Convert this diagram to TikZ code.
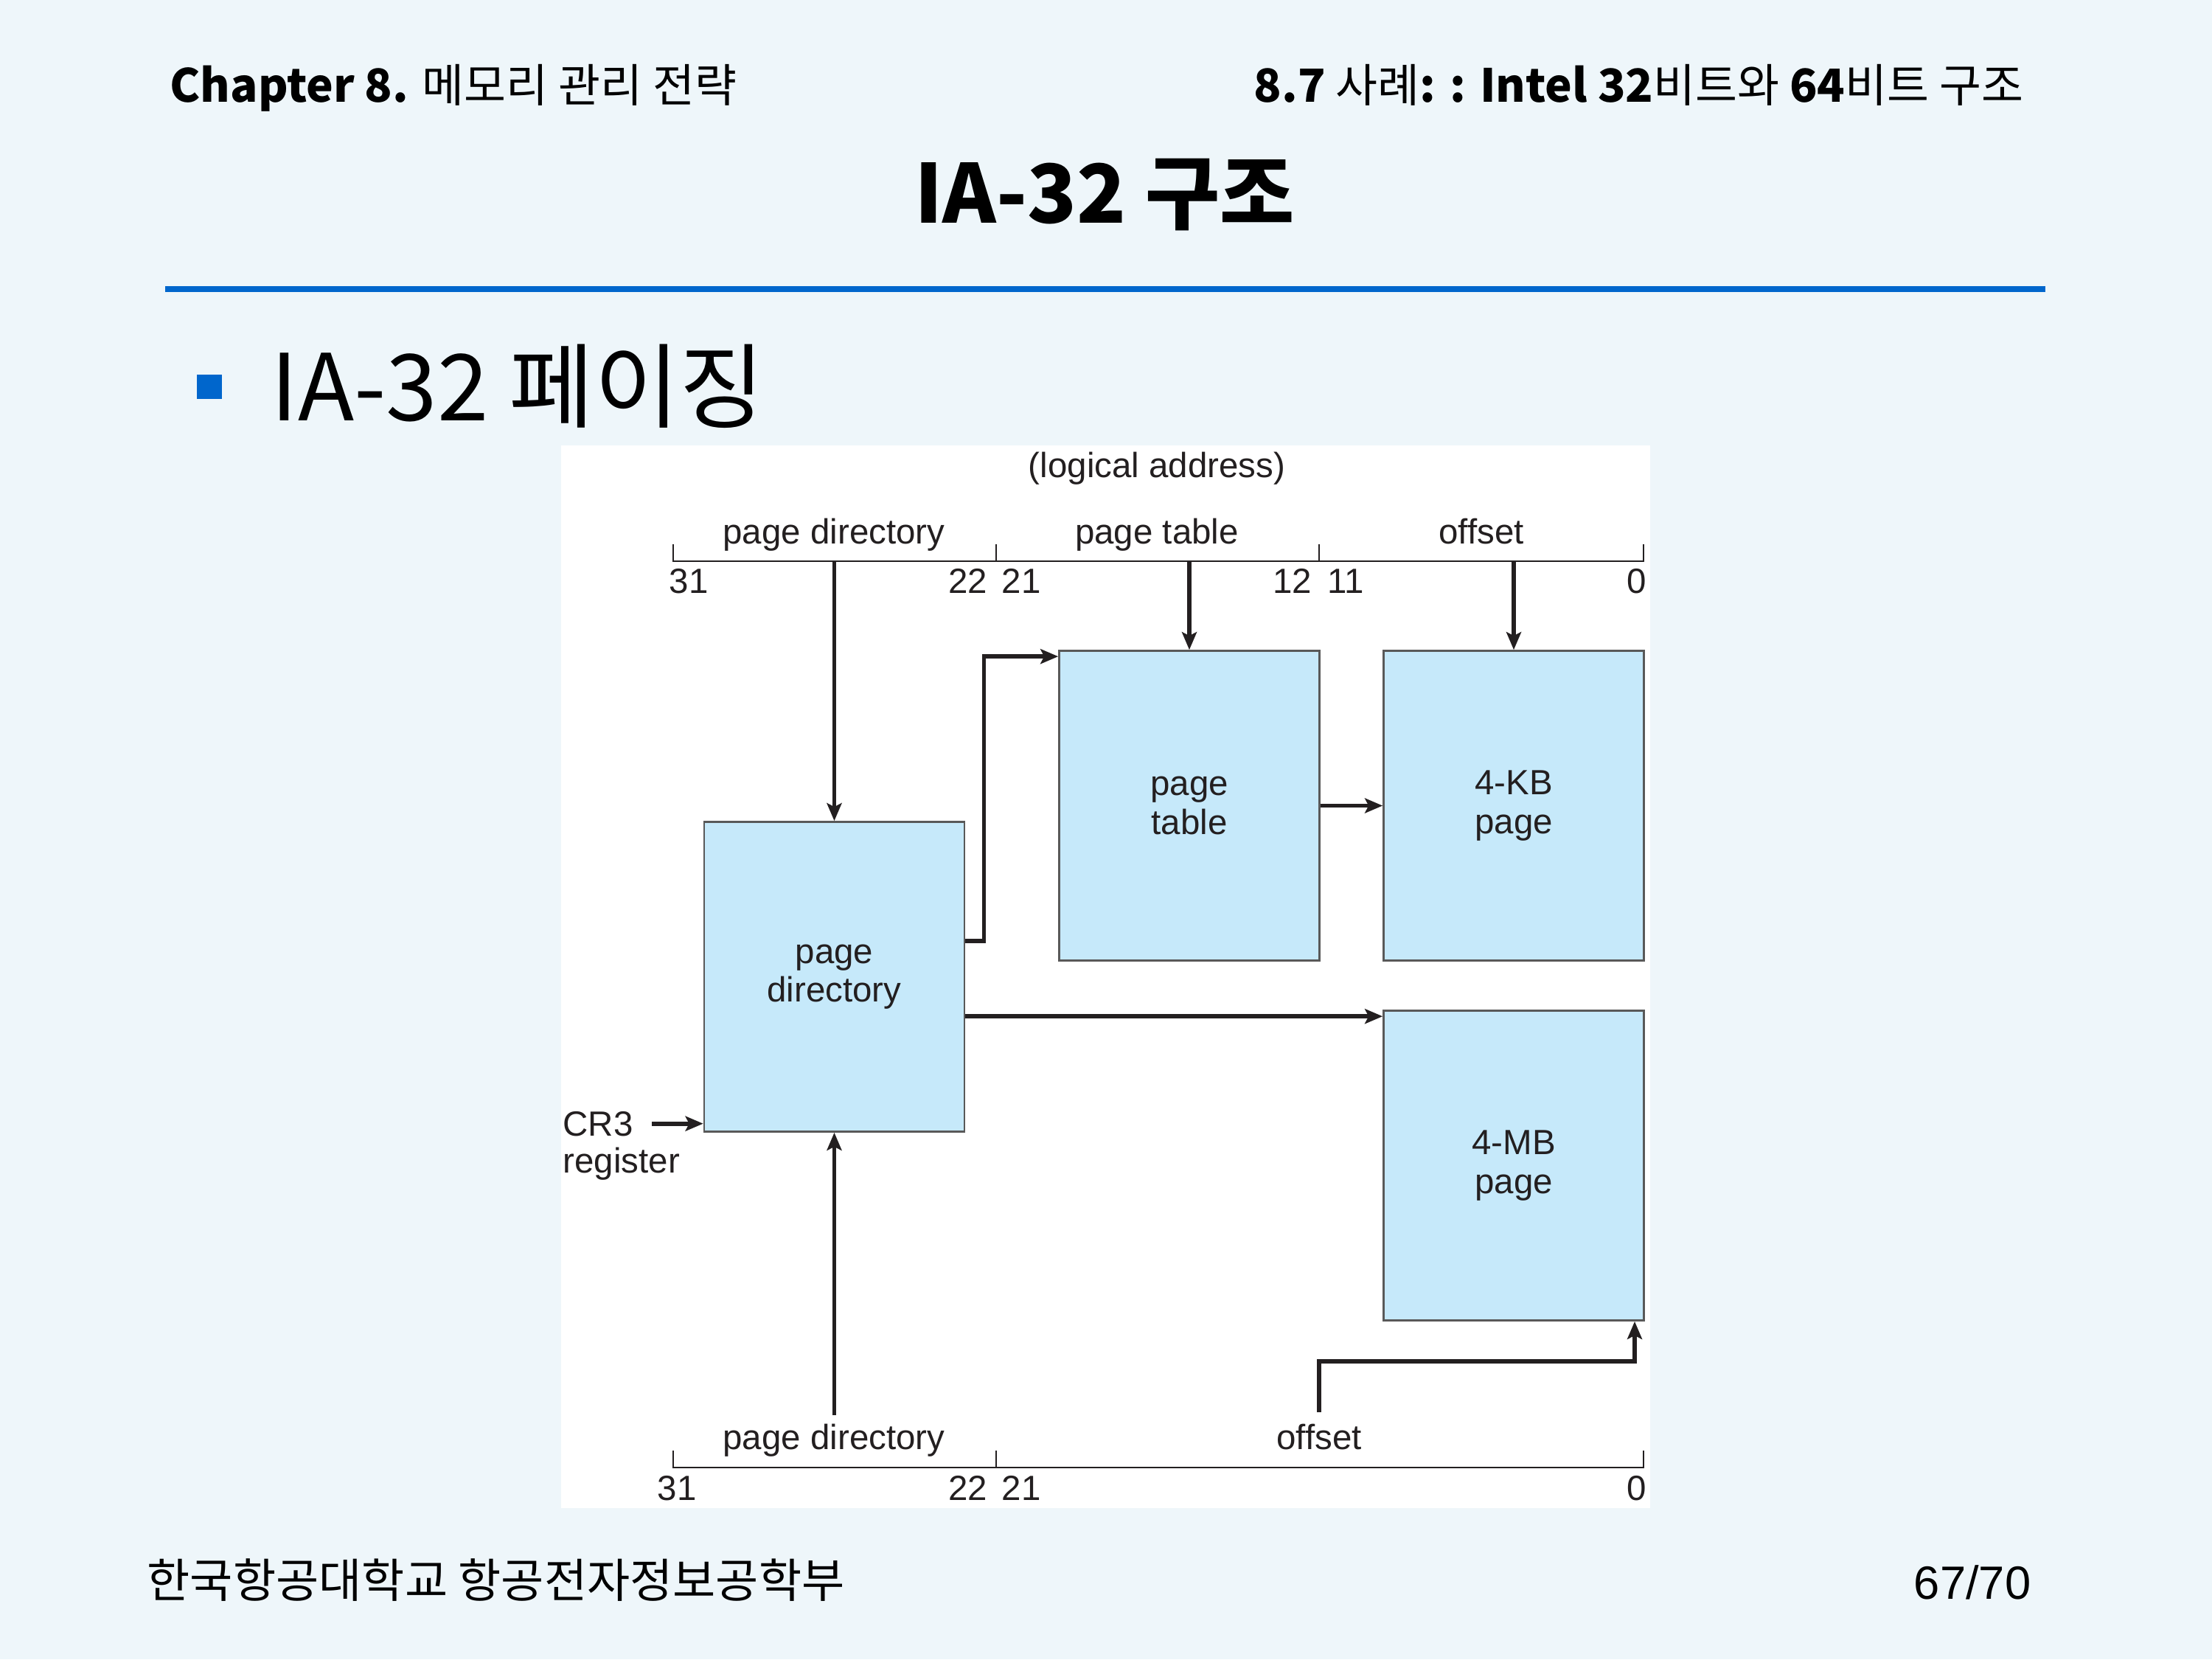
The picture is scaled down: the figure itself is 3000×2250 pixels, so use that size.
\documentclass[tikz,border=0pt]{standalone}
\usepackage{fontspec}
\setmainfont{Liberation Sans}
\newfontfamily\krfont{Noto Sans CJK KR}
\usetikzlibrary{arrows.meta,positioning}
\definecolor{slidebg}{RGB}{238,246,250}
\definecolor{boxfill}{RGB}{198,233,250}
\definecolor{rulecol}{RGB}{0,102,204}
\definecolor{ink}{RGB}{35,31,32}

\begin{document}
\begin{tikzpicture}[
    x=0.01cm, y=-0.01cm,
    pgbox/.style={rectangle, draw=black!65, line width=0.7pt, fill=boxfill, minimum width=3.53cm, minimum height=4.2cm, align=center, text=ink, font=\fontsize{13.5}{15}\selectfont},
    lbl/.style={inner sep=0pt, text=ink, font=\fontsize{13.5}{15}\selectfont},
    arrow/.style={-{Stealth[length=0.24cm, width=0.2cm, inset=0.05cm]}, line width=1.6pt, draw=ink},
    bar/.style={line width=0.6pt, draw=ink}
  ]
    \fill[slidebg] (0,0) rectangle (3000,2250);

    \node[anchor=base west, inner sep=0pt, font=\krfont\fontsize{17.6}{20}\selectfont] (chap) at (230,138) {\textbf{Chapter 8.} 메모리 관리 전략};
    \node[anchor=base east, inner sep=0pt, font=\krfont\fontsize{17.6}{20}\selectfont] (sect) at (2745,138) {\textbf{8.7} 사례\textbf{: : Intel 32}비트와 \textbf{64}비트 구조};
    \node[anchor=base, inner sep=0pt, font=\krfont\bfseries\fontsize{31.3}{36}\selectfont] (title) at (1498,302) {IA-32 구조};
    \draw[rulecol, line width=0.08cm] (224,392) -- (2774,392);
    \node[fill=rulecol, minimum size=0.33cm, inner sep=0pt] (bullet) at (284,524) {};
    \node[anchor=base west, inner sep=0pt, font=\krfont\fontsize{35.6}{40}\selectfont] (subtitle) at (367,570) {IA-32 페이징};

    \fill[white] (761,604) rectangle (2238,2045);

    \node[lbl, anchor=base] (logaddr) at (1569,647) {(logical address)};
    \draw[bar] (913,738) -- (913,761) -- (2229,761) -- (2229,738);
    \foreach \x in {1351,1789} \draw[bar] (\x,738) -- (\x,761);
    \node[lbl, anchor=base] (tdir) at (1131,737) {page directory};
    \node[lbl, anchor=base] (ttab) at (1569,737) {page table};
    \node[lbl, anchor=base] (toff) at (2009,737) {offset};
    \node[lbl, anchor=base west] (t31) at (907,804) {31};
    \node[lbl, anchor=base east] (t22) at (1340,804) {22};
    \node[lbl, anchor=base west] (t21) at (1358,804) {21};
    \node[lbl, anchor=base east] (t12) at (1780,804) {12};
    \node[lbl, anchor=base west] (t11) at (1800,804) {11};
    \node[lbl, anchor=base east] (t0) at (2234,804) {0};

    \node[pgbox] (pdir) at (1131.5,1324.5) {page\\directory};
    \node[pgbox] (ptab) at (1613,1092.5) {page\\table};
    \node[pgbox] (kb) at (2053,1092.5) {4-KB\\page};
    \node[pgbox] (mb) at (2053,1580.5) {4-MB\\page};

    \node[lbl, anchor=base west] (cr3) at (763,1540) {CR3};
    \node[lbl, anchor=base west] (reg) at (763,1590) {register};

    \coordinate (tdirpt) at (1131.5,761);
    \coordinate (ttabpt) at (1613,761);
    \coordinate (toffpt) at (2053,761);
    \draw[arrow] (tdirpt) -- (pdir.north);
    \draw[arrow] (ttabpt) -- (ptab.north);
    \draw[arrow] (toffpt) -- (kb.north);

    \draw[arrow] ([yshift=0.485cm]pdir.east) -- ++(25,0) |- ([yshift=-0.09cm]ptab.north west);
    \coordinate (mbin) at ([yshift=-0.09cm]mb.north west);
    \draw[arrow] (mbin -| pdir.east) -- (mbin);
    \draw[arrow] (ptab) -- (kb);
    \draw[arrow] ([xshift=0.25cm]cr3.east) -- (cr3.east -| pdir.west);

    \draw[bar] (913,1967) -- (913,1990) -- (2229,1990) -- (2229,1967);
    \draw[bar] (1351,1967) -- (1351,1990);
    \node[lbl, anchor=base] (bdir) at (1131,1965) {page directory};
    \node[lbl, anchor=base] (boff) at (1789,1965) {offset};
    \node[lbl, anchor=base west] (b31) at (891,2034) {31};
    \node[lbl, anchor=base east] (b22) at (1340,2034) {22};
    \node[lbl, anchor=base west] (b21) at (1358,2034) {21};
    \node[lbl, anchor=base east] (b0) at (2234,2034) {0};

    \coordinate (bdirpt) at (1131.5,1919);
    \coordinate (boffpt) at (1789,1915);
    \coordinate (offturn) at (2217,1846);
    \draw[arrow] (bdirpt) -- (pdir.south);
    \draw[arrow] (boffpt) |- (offturn) -- (offturn |- mb.south);

    \node[anchor=base west, inner sep=0pt, font=\krfont\fontsize{18}{22}\selectfont] (school) at (199,2166) {한국항공대학교 항공전자정보공학부};
    \node[anchor=base east, inner sep=0pt, font=\fontsize{18}{22}\selectfont] (pageno) at (2755,2168) {67/70};
\end{tikzpicture}
\end{document}
